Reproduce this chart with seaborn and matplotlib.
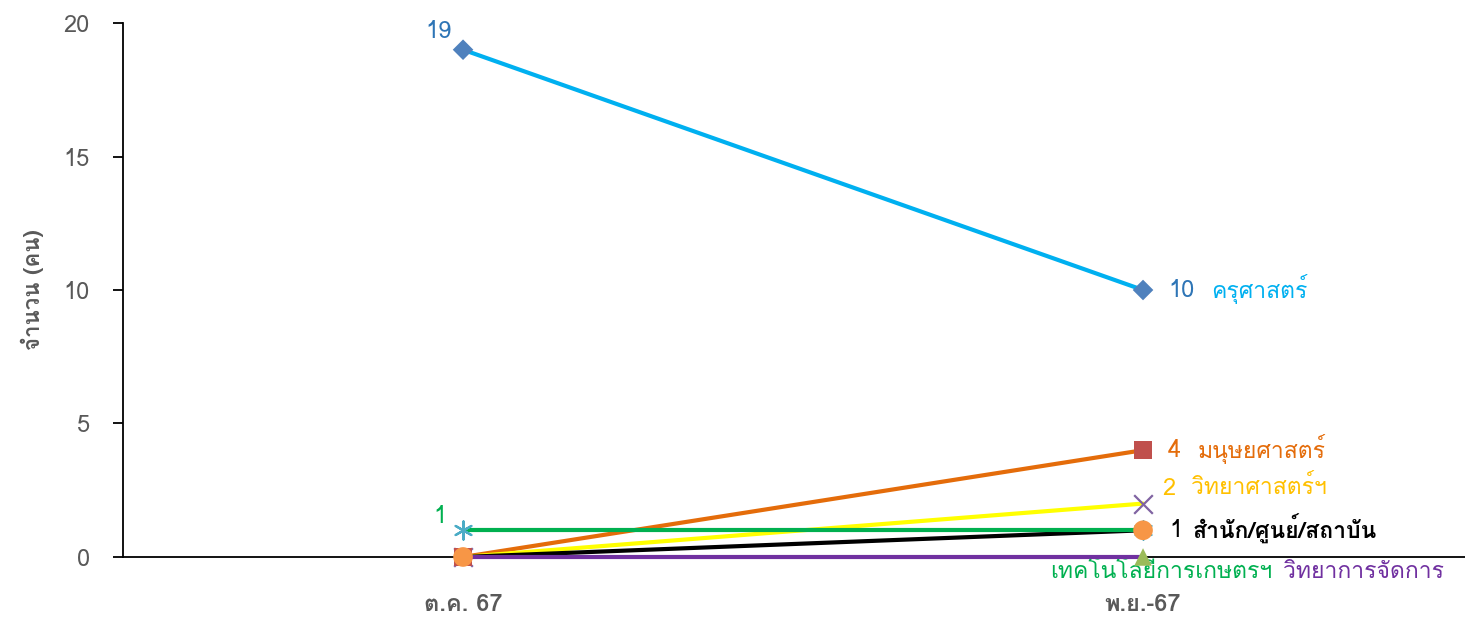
import numpy as np
import matplotlib
matplotlib.use('Agg')
import matplotlib.pyplot as plt
import seaborn as sns
import pandas as pd
from matplotlib import font_manager
from fontTools.ttLib import TTFont


def find_thai_font():
    """Pick the first installed family that has Thai glyphs."""
    for f in font_manager.fontManager.ttflist:
        try:
            cmap = TTFont(f.fname, fontNumber=0, lazy=True).getBestCmap()
        except Exception:
            continue
        if cmap and 0x0E01 in cmap and 0x0E33 in cmap:
            return f.name
    return 'DejaVu Sans'


# Data
months = ['ต.ค. 67', 'พ.ย.-67']
faculties = ['ครุศาสตร์', 'มนุษยศาสตร์', 'วิทยาศาสตร์ฯ', 'สำนัก/ศูนย์/สถาบัน',
             'เทคโนโลยีการเกษตรฯ', 'วิทยาการจัดการ']
oct_values = [19, 0, 0, 0, 1, 0]
nov_values = [10, 4, 2, 1, 1, 0]

line_colors = ['#00B0F0', '#E46C0A', '#FFFF00', '#000000', '#00B050', '#7030A0']
marker_colors = ['#4F81BD', '#C0504D', '#8064A2', '#F79646', '#4BACC6', '#9BBB59']
marker_shapes = ['D', 's', 'x', 'o', (6, 2, 0), '^']
marker_sizes = [110, 160, 180, 200, 170, 160]
marker_z = [12, 9, 8, 11, 10, 7]
label_colors = ['#00B0F0', '#E46C0A', '#FFC000', '#000000', '#00B050', '#7030A0']

rows = []
for name, a, b in zip(faculties, oct_values, nov_values):
    rows.append({'month': 0, 'faculty': name, 'value': a})
    rows.append({'month': 1, 'faculty': name, 'value': b})
df = pd.DataFrame(rows)

sns.set_style('white')
thai = find_thai_font()
plt.rcParams['font.family'] = [thai, 'DejaVu Sans']

fig = plt.figure(figsize=(14.65, 6.19), dpi=100)
ax = fig.add_axes([0.084, 0.1002, 0.9283, 0.8626])

sns.lineplot(data=df, x='month', y='value', hue='faculty', hue_order=faculties,
             palette=dict(zip(faculties, line_colors)), linewidth=3.0,
             legend=False, ax=ax)
for ln in ax.lines:
    ln.set_clip_on(False)
    ln.set_zorder(4)

# markers (colour differs from the line colour)
for i in range(len(faculties)):
    ys = [oct_values[i], nov_values[i]]
    face = marker_colors[i]
    if marker_shapes[i] in ['x', (6, 2, 0)]:
        ax.scatter([0, 1], ys, marker=marker_shapes[i], s=marker_sizes[i],
                   color=face, linewidths=1.6, zorder=marker_z[i], clip_on=False)
    else:
        ax.scatter([0, 1], ys, marker=marker_shapes[i], s=marker_sizes[i],
                   color=face, edgecolor='none', zorder=marker_z[i], clip_on=False)

# data labels
fs = 16.5
nfs = 17
ax.annotate('19', (0, oct_values[0]), xytext=(-8, 13), textcoords='offset points',
            ha='right', va='center', color='#2E75B6', fontsize=nfs)
ax.annotate('1', (0, oct_values[4]), xytext=(-12, 10), textcoords='offset points',
            ha='right', va='center', color='#00B050', fontsize=nfs)

offsets = [(18, 0), (18, 0), (14, 11), (19, 0)]
gaps = [31, 21, 21, 17]
for i in range(4):
    val_color = '#2E75B6' if i == 0 else label_colors[i]
    weight = 'bold' if i == 3 else 'normal'
    ax.annotate(f'{nov_values[i]}', (1, nov_values[i]), xytext=offsets[i],
                textcoords='offset points', ha='left', va='center',
                color=val_color, fontsize=nfs)
    ax.annotate(faculties[i], (1, nov_values[i]),
                xytext=(offsets[i][0] + gaps[i], offsets[i][1] + 1),
                textcoords='offset points', ha='left', va='center',
                color=label_colors[i], fontsize=fs, fontweight=weight)

ax.annotate(faculties[4], (1, nov_values[4] - 1), xytext=(93, -11),
            textcoords='offset points', ha='right', va='center',
            color=label_colors[4], fontsize=fs)
ax.annotate(faculties[5], (1, nov_values[5]), xytext=(101, -11),
            textcoords='offset points', ha='left', va='center',
            color=label_colors[5], fontsize=fs)

# axes
ax.set_xlim(-0.5, 1.5)
ax.set_ylim(0, 20)
ax.set_xticks([0, 1])
ax.set_xticklabels(months, fontsize=17, color='#595959', fontweight='bold')
ax.set_yticks([0, 5, 10, 15, 20])
ax.tick_params(axis='y', direction='out', length=7, width=1.3, color='black',
               pad=17, labelsize=17, labelcolor='#595959', left=True)
ax.tick_params(axis='x', length=0, pad=26)
ax.set_xlabel('')
ax.set_ylabel('จำนวน (คน)', fontsize=16, color='#595959', labelpad=14,
              fontweight='bold')

for side in ['top', 'right']:
    ax.spines[side].set_visible(False)
for side in ['left', 'bottom']:
    ax.spines[side].set_color('black')
    ax.spines[side].set_linewidth(1.3)
    ax.spines[side].set_zorder(3)

fig.savefig('out.png', dpi=100)
